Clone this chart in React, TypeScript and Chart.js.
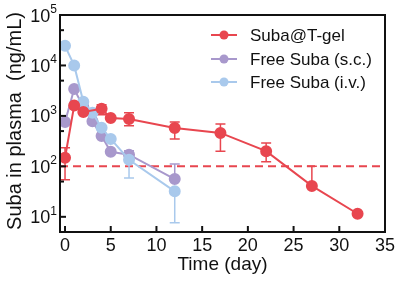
import React, { useEffect, useRef } from "react";
import { Chart, registerables } from "chart.js";

Chart.register(...registerables);

const seriesNames = ["Suba@T-gel", "Free Suba (s.c.)", "Free Suba (i.v.)"];
const seriesColors = ["#e8464f", "#a898cc", "#a9c9ec"];

const gelDays = [0, 1, 2, 4, 5, 7, 12, 17, 22, 27, 32];
const gelValues = [148, 1600, 1200, 1380, 910, 870, 576, 460, 200, 41, 11.5];
const gelErrUp = [234, null, null, 1660, null, 1150, 760, 690, 290, 100, null];
const gelErrLo = [54, null, null, 1050, null, 635, 350, 200, 124, null, null];

const scDays = [0, 1, 2, 3, 4, 5, 7, 12];
const scValues = [760, 3400, 1500, 780, 400, 195, 170, 56];
const scErrUp = [null, null, null, null, null, null, 205, 112];
const scErrLo = [null, null, null, null, null, null, 145, null];

const ivDays = [0, 1, 2, 3, 4, 5, 7, 12];
const ivValues = [24500, 10000, 1900, 1150, 580, 350, 135, 32];
const ivErrUp = [null, null, null, null, null, null, 190, null];
const ivErrLo = [null, null, null, null, null, null, 59, 7.6];

const xTicks = [0, 5, 10, 15, 20, 25, 30, 35];
const yMajorExps = [1, 2, 3, 4, 5];
const yMinorTicks = [50, 500, 5000, 50000];
const thresholdValue = 100;

const FONT = "'Liberation Sans', Arial, sans-serif";

export default function App() {
  const ref = useRef<HTMLCanvasElement>(null);
  useEffect(() => {
    const canvas = ref.current!;
    const errs = [
      { up: gelErrUp, lo: gelErrLo },
      { up: scErrUp, lo: scErrLo },
      { up: ivErrUp, lo: ivErrLo },
    ];
    const mk = (days: number[], vals: number[]) => days.map((d, i) => ({ x: d, y: vals[i] }));
    const datasets = [
      { label: seriesNames[0], data: mk(gelDays, gelValues), order: 0 },
      { label: seriesNames[1], data: mk(scDays, scValues), order: 2 },
      { label: seriesNames[2], data: mk(ivDays, ivValues), order: 1 },
    ].map((d, i) => ({
      ...d,
      borderColor: seriesColors[i],
      backgroundColor: seriesColors[i],
      pointBackgroundColor: seriesColors[i],
      pointBorderColor: seriesColors[i],
      pointRadius: 5,
      borderWidth: 2,
      tension: 0,
    }));

    const plugin = {
      id: "custom",
      beforeDatasetsDraw(chart: any) {
        const ctx = chart.ctx;
        const xs = chart.scales.x;
        const ys = chart.scales.y;
        const ca = chart.chartArea;
        ctx.save();
        ctx.strokeStyle = seriesColors[0];
        ctx.lineWidth = 2;
        ctx.setLineDash([8, 5]);
        const ty = ys.getPixelForValue(thresholdValue);
        ctx.beginPath();
        ctx.moveTo(ca.left, ty);
        ctx.lineTo(ca.right, ty);
        ctx.stroke();
        ctx.setLineDash([]);
        chart.data.datasets.forEach((ds: any, di: number) => {
          ctx.strokeStyle = seriesColors[di];
          ctx.lineWidth = 1.5;
          ds.data.forEach((p: any, i: number) => {
            const px = xs.getPixelForValue(p.x);
            const py = ys.getPixelForValue(p.y);
            const u = errs[di].up[i];
            const l = errs[di].lo[i];
            [u, l].forEach((v) => {
              if (v == null) return;
              const vy = ys.getPixelForValue(v);
              ctx.beginPath();
              ctx.moveTo(px, py);
              ctx.lineTo(px, vy);
              ctx.moveTo(px - 5, vy);
              ctx.lineTo(px + 5, vy);
              ctx.stroke();
            });
          });
        });
        ctx.restore();
      },
      afterDraw(chart: any) {
        const ctx = chart.ctx;
        const xs = chart.scales.x;
        const ys = chart.scales.y;
        const ca = chart.chartArea;
        ctx.save();
        ctx.strokeStyle = "#111";
        ctx.lineWidth = 2;
        ctx.strokeRect(ca.left, ca.top, ca.right - ca.left, ca.bottom - ca.top);
        ctx.fillStyle = "#111";
        ctx.font = `18px ${FONT}`;
        ctx.textAlign = "center";
        ctx.textBaseline = "top";
        xTicks.forEach((t) => {
          const px = xs.getPixelForValue(t);
          ctx.beginPath();
          ctx.moveTo(px, ca.bottom);
          ctx.lineTo(px, ca.bottom - 6);
          ctx.stroke();
          ctx.fillText(String(t), px, ca.bottom + 5);
        });
        yMajorExps.forEach((e) => {
          const py = ys.getPixelForValue(Math.pow(10, e));
          ctx.beginPath();
          ctx.moveTo(ca.left, py);
          ctx.lineTo(ca.left + 6, py);
          ctx.stroke();
          ctx.font = `12px ${FONT}`;
          ctx.textAlign = "right";
          ctx.textBaseline = "alphabetic";
          const sup = String(e);
          const supW = ctx.measureText(sup).width;
          ctx.fillText(sup, ca.left - 3, py - 2);
          ctx.font = `18px ${FONT}`;
          ctx.fillText("10", ca.left - 3 - supW, py + 6.5);
        });
        yMinorTicks.forEach((v) => {
          const py = ys.getPixelForValue(v);
          ctx.beginPath();
          ctx.moveTo(ca.left, py);
          ctx.lineTo(ca.left + 4, py);
          ctx.stroke();
        });
        ctx.font = `19px ${FONT}`;
        ctx.textAlign = "center";
        ctx.textBaseline = "middle";
        ctx.fillText("Time (day)", (ca.left + ca.right) / 2, 265);
        ctx.save();
        ctx.translate(15, 121);
        ctx.rotate(-Math.PI / 2);
        ctx.font = `20px ${FONT}`;
        ctx.fillText("Suba in plasma  (ng/mL)", 0, 0);
        ctx.restore();
        const rows = [35, 59, 82];
        seriesNames.forEach((name, i) => {
          const y = rows[i];
          ctx.strokeStyle = seriesColors[i];
          ctx.fillStyle = seriesColors[i];
          ctx.lineWidth = 2;
          ctx.beginPath();
          ctx.moveTo(211, y);
          ctx.lineTo(237, y);
          ctx.stroke();
          ctx.beginPath();
          ctx.arc(224, y, 4.5, 0, Math.PI * 2);
          ctx.fill();
          ctx.fillStyle = "#111";
          ctx.font = `17px ${FONT}`;
          ctx.textAlign = "left";
          ctx.textBaseline = "middle";
          ctx.fillText(name, 250, y + 1);
        });
        ctx.restore();
      },
    };

    const chart = new Chart(canvas, {
      type: "line",
      data: { datasets: datasets as any },
      options: {
        animation: false,
        responsive: false,
        maintainAspectRatio: false,
        layout: { padding: { top: 15, right: 13, left: 0, bottom: 0 } },
        plugins: { legend: { display: false }, tooltip: { enabled: false } },
        scales: {
          x: {
            type: "linear",
            min: -0.55,
            max: 35,
            grid: { display: false, drawTicks: false },
            border: { display: false },
            ticks: { display: false },
            afterFit: (s: any) => { s.height = 50; },
          },
          y: {
            type: "logarithmic",
            min: 5,
            max: 100000,
            grid: { display: false, drawTicks: false },
            border: { display: false },
            ticks: { display: false },
            afterFit: (s: any) => { s.width = 60; },
          },
        },
      },
      plugins: [plugin],
    });
    return () => chart.destroy();
  }, []);
  return (
    <div style={{ position: "fixed", left: 0, top: 0, width: 398, height: 282, background: "#fff" }}>
      <canvas ref={ref} width={398} height={282} style={{ width: 398, height: 282 }} />
    </div>
  );
}
